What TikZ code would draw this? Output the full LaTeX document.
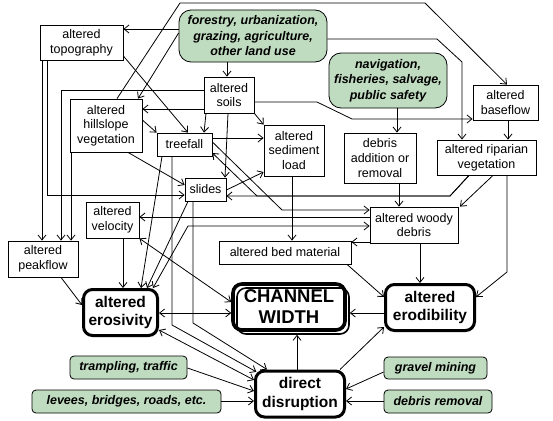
\documentclass[tikz,border=0pt]{standalone}
\usepackage{fontspec}
\setmainfont{Liberation Sans}
\usetikzlibrary{arrows.meta,calc}
\definecolor{mgreen}{RGB}{192,220,192}
\begin{document}
\begin{tikzpicture}[x=1pt,y=-1pt,
  every node/.style={inner sep=0pt, align=center},
  pbox/.style={draw, line width=0.8pt, font=\fontsize{12.5}{14.7}\selectfont},
  gbig/.style={draw, line width=0.8pt, fill=mgreen, rounded corners=12pt, font=\fontsize{12.5}{15.5}\selectfont\bfseries\itshape},
  gsmall/.style={draw, line width=0.8pt, fill=mgreen, rounded corners=4pt, font=\fontsize{12.5}{15}\selectfont\bfseries\itshape},
  tbox/.style={draw, line width=3pt, rounded corners=9pt, font=\fontsize{15.5}{18.5}\selectfont\bfseries},
  arr/.style={line width=0.8pt, -{Straight Barb[length=5pt,width=8pt]}},
  darr/.style={line width=0.8pt, {Straight Barb[length=5pt,width=8pt]}-{Straight Barb[length=5pt,width=8pt]}},
]
\fill[white] (0,0) rectangle (553,420);
\useasboundingbox (0,0) rectangle (553,420);

% nodes
\node[pbox, minimum width=83pt, minimum height=35pt] (topo) at (81.5,42.5) {altered\\topography};
\node[gbig, minimum width=148pt, minimum height=52pt] (forest) at (253,36) {forestry, urbanization,\\grazing, agriculture,\\other land use};
\node[pbox, minimum width=50pt, minimum height=36pt] (soils) at (229,95) {altered\\soils};
\node[pbox, minimum width=72pt, minimum height=53pt] (hill) at (106,125.5) {altered\\hillslope\\vegetation};
\node[pbox, minimum width=55pt, minimum height=23pt] (treefall) at (184.5,144.5) {treefall};
\node[pbox, minimum width=41pt, minimum height=23pt] (slides) at (205.5,189.5) {slides};
\node[pbox, minimum width=60pt, minimum height=51pt] (sed) at (294,150.5) {altered\\sediment\\load};
\node[pbox, minimum width=72pt, minimum height=50pt] (debrisadd) at (380,158) {debris\\addition or\\removal};
\node[gbig, minimum width=118pt, minimum height=55pt] (nav) at (388,80.5) {navigation,\\fisheries, salvage,\\public safety};
\node[pbox, minimum width=65pt, minimum height=35pt] (base) at (505.5,102.5) {altered\\baseflow};
\node[pbox, minimum width=99pt, minimum height=35pt] (ripar) at (486.5,157.5) {altered riparian\\vegetation};
\node[pbox, minimum width=88pt, minimum height=36pt] (woody) at (414,225) {altered woody\\debris};
\node[pbox, minimum width=132pt, minimum height=23pt] (bed) at (285,252.5) {altered bed material};
\node[pbox, minimum width=53pt, minimum height=36pt] (vel) at (112.5,220) {altered\\velocity};
\node[pbox, minimum width=70pt, minimum height=36pt] (peak) at (43,259) {altered\\peakflow};
\node[tbox, minimum width=74pt, minimum height=46pt] (eros) at (120.5,312.5) {altered\\erosivity};
\node[draw, line width=1.6pt, rounded corners=9pt, minimum width=112pt, minimum height=46pt] (chans) at (293,311) {};
\node[tbox, line width=3.6pt, minimum width=112pt, minimum height=46pt, font=\fontsize{18.5}{21}\selectfont\bfseries] (chan) at (289,307) {CHANNEL\\WIDTH};
\node[tbox, minimum width=89pt, minimum height=46pt] (erod) at (430,307.5) {altered\\erodibility};
\node[tbox, minimum width=89pt, minimum height=46pt] (disr) at (300,394) {direct\\disruption};
\node[gsmall, minimum width=117pt, minimum height=23pt] (tramp) at (128.5,367.5) {trampling, traffic};
\node[gsmall, minimum width=189pt, minimum height=23pt] (levees) at (126.5,401.5) {levees, bridges, roads, etc.};
\node[gsmall, minimum width=103pt, minimum height=22pt] (gravel) at (435.5,368) {gravel mining};
\node[gsmall, minimum width=108pt, minimum height=23pt] (debrem) at (438,401.5) {debris removal};

% connectors
\draw[arr] (forest.west |- 0,29) -- (topo.east |- 0,29);
\draw[arr] (forest.south -| 227,0) -- (soils.north -| 227,0);
\draw[arr] (forest.west |- 0,33) -- (hill.north -| 138,0);
\draw[arr] (hill.north -| 117,0) -- (180,3) -- (425,3) -- (base.north -| 507,0);
\draw[arr] (forest.east |- 0,39) -- (437,39) -- (462,62) -- (ripar.north -| 462,0);
\draw[arr] (nav.south -| 397,0) -- (debrisadd.north -| 397,0);
\draw[arr] (base.south -| 508,0) -- (ripar.north -| 508,0);
\draw[arr] (soils.east |- 0,102) -- (317,102) -- (352,119) -- (base.west |- 0,119);
\draw[arr] (soils.west |- 0,90) -- (61,90) -- (peak.north -| 61,0);
\draw[arr] (soils.west |- 0,109) -- (hill.east |- 0,109);
\draw[arr] (soils.south -| 206,0) -- (treefall.north -| 204,0);
\draw[arr] (soils.south -| 228,0) -- (slides.north -| 225,0);
\draw[arr] (soils.south east) -- (sed.north west);
\draw[arr] (topo.east |- 0,56) -- (treefall.north -| 188,0);
\draw[arr] (hill.east |- 0,120) -- (treefall.north west);
\draw[arr] (hill.south -| 128,0) -- (slides.west |- 0,185);
\draw[arr] (topo.south -| 42,0) -- (peak.north -| 42,0);
\draw[arr] (topo.south -| 47,0) -- (47,195) -- (slides.west |- 0,195);
\draw[arr] (hill.south -| 71,0) -- (peak.north -| 71,0);
\draw[arr] (treefall.east |- 0,138) -- (sed.west |- 0,138);
\draw[arr] (slides.east |- 0,190) -- (sed.west |- 0,172);
\draw[arr] (treefall.east |- 0,142) -- (282,210) -- (woody.west |- 0,210);
\draw[arr] (ripar.south -| 469,0) -- (450,196) -- (slides.east |- 0,196);
\draw[arr] (ripar.south -| 469,0) -- (450,196) -- (257,196) -- (treefall.east |- 0,153);
\draw[arr] (woody.west |- 0,217) -- (vel.east |- 0,217);
\draw[darr] (woody.west |- 0,226) -- (188,226) -- (eros.north -| 153,0);
\draw[arr] (woody.west |- 0,242) -- (bed.east |- 0,242);
\draw[arr] (woody.south -| 420,0) -- (erod.north -| 420,0);
\draw[arr] (ripar.south -| 507,0) -- (507,272) -- (erod.east |- 0,297);
\draw[arr] (ripar.south -| 493,0) -- (woody.north -| 460,0);
\draw[arr] (debrisadd.south -| 399,0) -- (woody.north -| 399,0);
\draw[arr] (sed.south -| 292,0) -- (bed.north -| 292,0);
\draw[arr] (bed.south -| 347,0) -- (erod.west |- 0,297);
\draw[arr] (vel.south -| 123,0) -- (eros.north -| 123,0);
\draw[arr] (peak.south -| 61,0) -- (eros.west |- 0,305);
\draw[darr] (eros.east |- 0,313) -- (chan.west |- 0,313);
\draw[darr] (vel.south east) -- (chan.west |- 0,302);
\draw[arr] (erod.west |- 0,313) -- (chans.east |- 0,313);
\draw[arr] (disr.north -| 297,0) -- (chans.south -| 297,0);
\draw[arr] (disr.north -| 340,0) -- (erod.west |- 0,327);
\draw[arr] (gravel.west |- 0,372) -- (disr.east |- 0,389);
\draw[arr] (debrem.west |- 0,401) -- (disr.east |- 0,401);
\draw[arr] (tramp.east |- 0,368) -- (disr.west |- 0,391);
\draw[arr] (levees.east |- 0,401) -- (disr.west |- 0,401);
\draw[darr] (eros.east |- 0,330) -- (disr.west |- 0,380);
\draw[arr] (treefall.south -| 172,0) -- (172,325) -- ($(disr.north west)+(2.3,2.3)$);
\draw[arr] (slides.south -| 193,0) -- (193,323) -- (disr.north -| 267,0);
\draw[arr] (treefall.south -| 162,0) -- (eros.north -| 141,0);
\draw[arr] (slides.south -| 188,0) -- (eros.north -| 147,0);
\end{tikzpicture}
\end{document}
